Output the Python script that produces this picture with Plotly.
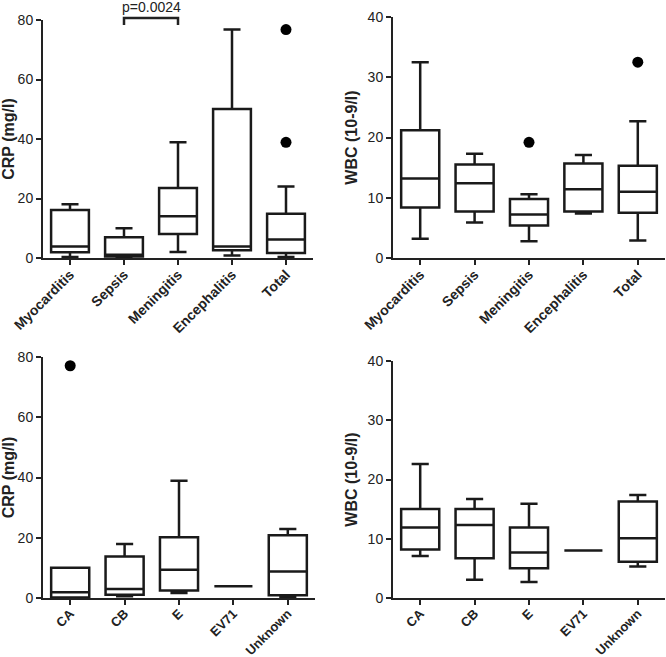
import plotly.graph_objects as go

# ---------------- data ----------------
groups_dx = ["Myocarditis", "Sepsis", "Meningitis", "Encephalitis", "Total"]
groups_vt = ["CA", "CB", "E", "EV71", "Unknown"]

# CRP by diagnosis
crp_dx_min = [0.3, 0.3, 2.0, 0.8, 0.3]
crp_dx_q1 = [1.9, 0.5, 8.1, 2.6, 1.7]
crp_dx_med = [3.9, 1.1, 14.0, 3.9, 6.2]
crp_dx_q3 = [16.1, 7.0, 23.5, 50.1, 14.9]
crp_dx_max = [18.1, 10.0, 38.9, 76.8, 24.0]
crp_dx_out_x = ["Total", "Total"]
crp_dx_out_y = [76.8, 38.9]

# WBC by diagnosis
wbc_dx_min = [3.2, 5.9, 2.8, 7.4, 2.9]
wbc_dx_q1 = [8.4, 7.7, 5.4, 7.7, 7.5]
wbc_dx_med = [13.2, 12.4, 7.2, 11.4, 11.0]
wbc_dx_q3 = [21.2, 15.5, 9.8, 15.7, 15.3]
wbc_dx_max = [32.5, 17.3, 10.6, 17.1, 22.7]
wbc_dx_out_x = ["Meningitis", "Total"]
wbc_dx_out_y = [19.2, 32.5]

# CRP by virus type
crp_vt_min = [0.2, 0.55, 1.7, 3.9, 0.3]
crp_vt_q1 = [0.2, 1.1, 2.5, 3.9, 0.9]
crp_vt_med = [1.9, 3.0, 9.4, 3.9, 8.8]
crp_vt_q3 = [10.0, 13.8, 20.2, 3.9, 20.8]
crp_vt_max = [10.0, 17.9, 38.9, 3.9, 22.9]
crp_vt_out_x = ["CA"]
crp_vt_out_y = [77.1]

# WBC by virus type
wbc_vt_min = [7.1, 3.1, 2.7, 8.0, 5.3]
wbc_vt_q1 = [8.2, 6.7, 5.0, 8.0, 6.1]
wbc_vt_med = [11.9, 12.3, 7.7, 8.0, 10.1]
wbc_vt_q3 = [15.0, 15.0, 11.9, 8.0, 16.3]
wbc_vt_max = [22.6, 16.7, 15.9, 8.0, 17.4]

crp_ticks = [0, 20, 40, 60, 80]
wbc_ticks = [0, 10, 20, 30, 40]

p_label = "p=0.0024"
p_pair = ["Sepsis", "Meningitis"]

# ---------------- figure ----------------
FONT = "Arial, Liberation Sans, sans-serif"
fig = go.Figure()

panels = [
    ("x", "y", groups_dx, crp_dx_min, crp_dx_q1, crp_dx_med, crp_dx_q3, crp_dx_max, crp_dx_out_x, crp_dx_out_y),
    ("x2", "y2", groups_dx, wbc_dx_min, wbc_dx_q1, wbc_dx_med, wbc_dx_q3, wbc_dx_max, wbc_dx_out_x, wbc_dx_out_y),
    ("x3", "y3", groups_vt, crp_vt_min, crp_vt_q1, crp_vt_med, crp_vt_q3, crp_vt_max, crp_vt_out_x, crp_vt_out_y),
    ("x4", "y4", groups_vt, wbc_vt_min, wbc_vt_q1, wbc_vt_med, wbc_vt_q3, wbc_vt_max, [], []),
]

for xa, ya, cats, lo, q1, med, q3, hi, ox, oy in panels:
    fig.add_trace(go.Box(
        x=cats, q1=q1, median=med, q3=q3, lowerfence=lo, upperfence=hi,
        xaxis=xa, yaxis=ya, width=0.7, whiskerwidth=0.45,
        fillcolor="white", line=dict(color="#1a1a1a", width=2.5),
        boxpoints=False, showlegend=False, hoverinfo="skip",
    ))
    if ox:
        fig.add_trace(go.Scatter(
            x=ox, y=oy, xaxis=xa, yaxis=ya, mode="markers",
            marker=dict(color="black", size=11), showlegend=False,
            cliponaxis=False, hoverinfo="skip",
        ))

tickfont = dict(family=FONT, size=14, color="#222")
ytickfont = dict(family=FONT, size=14, color="#222")
titlefont = dict(family=FONT, size=16, color="#222")

def xax(domain, anchor, fs=14):
    return dict(domain=domain, anchor=anchor, range=[-0.5, 4.5], showline=True,
                linecolor="#222", linewidth=2, ticks="outside", ticklen=5, tickwidth=2,
                tickcolor="#222", tickangle=-45, tickfont=dict(tickfont, size=fs),
                showgrid=False, zeroline=False, type="category", automargin=False,
                ticklabelstandoff=-4,
                tickprefix="<b>", ticksuffix="</b>")

def yax(domain, anchor, rng, ticks, title):
    return dict(domain=domain, anchor=anchor, range=rng, tickvals=ticks, showline=True,
                linecolor="#222", linewidth=2, ticks="outside", ticklen=5, tickwidth=2,
                tickcolor="#222", tickfont=ytickfont, showgrid=False, zeroline=False,
                automargin=False, tickprefix="<b>", ticksuffix="</b>",
                title=dict(text="<b>" + title + "</b>", font=titlefont, standoff=6))

W, H = 666, 657
fig.update_layout(
    width=W, height=H, margin=dict(l=0, r=0, t=0, b=0),
    paper_bgcolor="white", plot_bgcolor="white",
    font=dict(family=FONT, color="#222"),
    xaxis=xax([43 / W, 313 / W], "y"),
    yaxis=yax([1 - 258 / H, 1 - 20 / H], "x", [0, 80], crp_ticks, "CRP (mg/l)"),
    xaxis2=xax([393 / W, 665 / W], "y2"),
    yaxis2=yax([1 - 258 / H, 1 - 17 / H], "x2", [0, 40], wbc_ticks, "WBC (10-9/l)"),
    xaxis3=xax([43 / W, 315 / W], "y3", 13),
    yaxis3=yax([1 - 598 / H, 1 - 357 / H], "x3", [0, 80], crp_ticks, "CRP (mg/l)"),
    xaxis4=xax([393 / W, 665 / W], "y4", 13),
    yaxis4=yax([1 - 598 / H, 1 - 361 / H], "x4", [0, 40], wbc_ticks, "WBC (10-9/l)"),
)

# significance bracket (y in paper coords, above plot top)
yb0 = 1 - 25 / H
yb1 = 1 - 18 / H
fig.add_shape(type="path", xref="x", yref="paper",
              path=f"M 1,{yb0} L 1,{yb1} L 2,{yb1} L 2,{yb0}",
              line=dict(color="#222", width=2.5))
fig.add_annotation(x=1.5, xref="x", y=1 - 7 / H, yref="paper", text=p_label,
                   showarrow=False, font=dict(family=FONT, size=14, color="#222"),
                   yanchor="middle")

fig.write_html("out.html", config={"displayModeBar": False},
               post_script="document.body.style.margin='0';document.body.style.overflow='hidden';")
